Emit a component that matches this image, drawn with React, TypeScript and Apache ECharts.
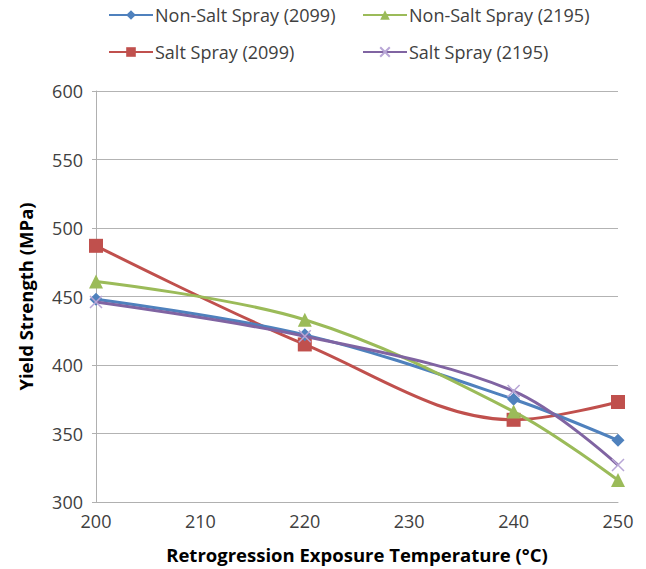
import React, { useEffect, useRef } from "react";
import * as echarts from "echarts";

const temperatures = [200, 220, 240, 250];
const nonSalt2099 = [448, 422, 375, 345];
const nonSalt2195 = [461, 433, 366, 316];
const salt2099 = [487, 415, 360, 373];
const salt2195 = [446, 421, 381, 327];
const seriesNames = [
  "Non-Salt Spray (2099)",
  "Non-Salt Spray (2195)",
  "Salt Spray (2099)",
  "Salt Spray (2195)",
];

const FONT = "Open Sans";

export default function App() {
  const ref = useRef<HTMLDivElement>(null);
  useEffect(() => {
    if (!ref.current) return;
    const chart = echarts.init(ref.current, null, { renderer: "svg" });
    const pair = (vals: number[]) => temperatures.map((t, i) => [t, vals[i]]);
    const legendBase = {
      itemWidth: 44,
      itemHeight: 12,
      itemGap: 4,
      padding: 0,
      textStyle: { fontFamily: FONT, fontSize: 18, color: "#404040", padding: [0, 0, 0, -3] },
    };
    const crossPath = "path://M0,0L10,10M10,0L0,10";
    chart.setOption({
      animation: false,
      backgroundColor: "#ffffff",
      grid: { left: 96, right: 28, top: 91, bottom: 66, containLabel: false },
      legend: [
        { ...legendBase, data: [seriesNames[0]], left: 108, top: 6 },
        { ...legendBase, data: [seriesNames[1]], left: 362, top: 6 },
        { ...legendBase, data: [seriesNames[2]], left: 108, top: 43 },
        { ...legendBase, data: [seriesNames[3]], left: 362, top: 43 },
      ],
      xAxis: {
        type: "value",
        min: 200,
        max: 250,
        interval: 10,
        name: "Retrogression Exposure Temperature (°C)",
        nameLocation: "middle",
        nameGap: 43,
        nameTextStyle: { fontFamily: FONT, fontSize: 18.5, fontWeight: "bold", color: "#000" },
        axisLine: { lineStyle: { color: "#b0b0b0", width: 1 } },
        axisTick: { show: false },
        axisLabel: { fontFamily: FONT, fontSize: 18, color: "#404040", margin: 10 },
        splitLine: { show: false },
      },
      yAxis: {
        type: "value",
        min: 300,
        max: 600,
        interval: 50,
        name: "Yield Strength (MPa)",
        nameLocation: "middle",
        nameGap: 61,
        nameRotate: 90,
        nameTextStyle: { fontFamily: FONT, fontSize: 18.5, fontWeight: "bold", color: "#000" },
        axisLine: { show: true, lineStyle: { color: "#b0b0b0", width: 1 } },
        axisTick: { show: true, length: 4, lineStyle: { color: "#b0b0b0" } },
        axisLabel: { fontFamily: FONT, fontSize: 18, color: "#404040", margin: 13 },
        splitLine: { lineStyle: { color: "#b3b3b3", width: 1 } },
      },
      series: [
        {
          name: seriesNames[0],
          type: "line",
          smooth: 0.35,
          data: pair(nonSalt2099),
          symbol: "diamond",
          symbolSize: 13,
          lineStyle: { width: 3, color: "#4F81BD" },
          itemStyle: { color: "#4F81BD" },
          z: 3,
        },
        {
          name: seriesNames[1],
          type: "line",
          smooth: 0.35,
          data: pair(nonSalt2195),
          symbol: "triangle",
          symbolSize: 14,
          lineStyle: { width: 3, color: "#9BBB59" },
          itemStyle: { color: "#9BBB59" },
          z: 4,
        },
        {
          name: seriesNames[2],
          type: "line",
          smooth: 0.35,
          data: pair(salt2099),
          symbol: "rect",
          symbolSize: 14,
          lineStyle: { width: 3, color: "#C0504D" },
          itemStyle: { color: "#C0504D" },
          z: 2,
        },
        {
          name: seriesNames[3],
          type: "line",
          smooth: 0.35,
          data: pair(salt2195),
          symbol: crossPath,
          symbolSize: 12,
          lineStyle: { width: 3, color: "#8064A2" },
          itemStyle: { color: "rgba(0,0,0,0)", borderColor: "#B8A6D6", borderWidth: 1.5 },
          z: 5,
        },
      ],
    });
    return () => chart.dispose();
  }, []);
  return (
    <div
      ref={ref}
      style={{ position: "absolute", left: 0, top: 0, width: 646, height: 569 }}
    />
  );
}
